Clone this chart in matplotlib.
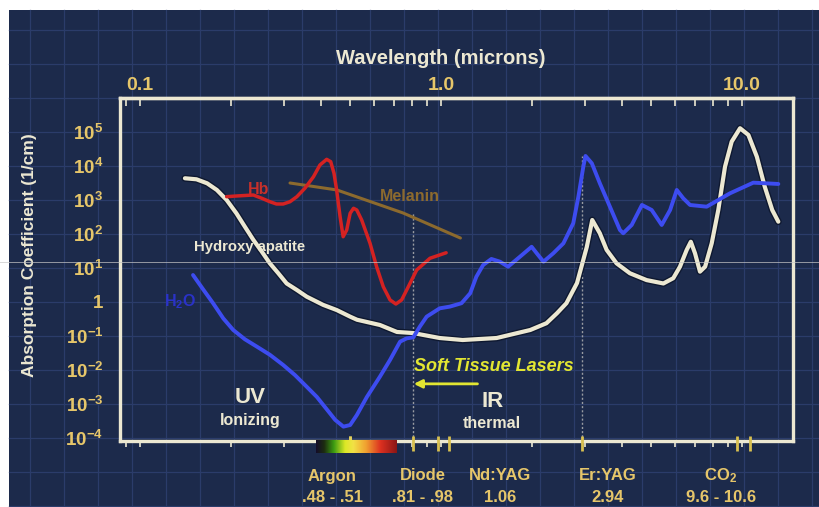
import matplotlib
matplotlib.use("Agg")
import matplotlib.pyplot as plt
import matplotlib.patheffects as pe
import numpy as np
from matplotlib.colors import LinearSegmentedColormap
from matplotlib.lines import Line2D
from matplotlib.patches import Rectangle
from matplotlib.ticker import LogLocator, NullFormatter, FixedLocator, FixedFormatter


# Hydroxyapatite (white curve): wavelength (microns), absorption (1/cm)
hap_wl = [0.141, 0.154, 0.167, 0.180, 0.194, 0.209, 0.223, 0.238, 0.254, 0.270,
          0.288, 0.307, 0.332, 0.358, 0.406, 0.450, 0.499, 0.526, 0.627, 0.714,
          0.807, 0.99, 1.18, 1.53, 1.98, 2.24, 2.43, 2.61, 2.83, 3.05, 3.18,
          3.37, 3.55, 3.83, 4.24, 4.82, 5.48, 5.91, 6.22, 6.55, 6.76, 6.98,
          7.25, 7.54, 7.93, 8.34, 8.78, 9.24, 9.85, 10.5, 11.2, 11.9, 12.6, 13.2]
hap_abs = [4350, 4060, 3100, 1970, 1000, 406, 164, 67, 30, 13.7,
           7.0, 3.5, 2.25, 1.43, 0.82, 0.58, 0.37, 0.30, 0.21, 0.131,
           0.122, 0.087, 0.076, 0.087, 0.15, 0.237, 0.47, 0.92, 3.6, 41.5, 258,
           105, 34, 13.7, 7.0, 4.4, 3.5, 5.0, 10.9, 34, 59, 27,
           7.8, 10.9, 53, 508, 9530, 5.2e4, 1.29e5, 8.2e4, 1.88e4, 2460, 508, 230]

# Water (blue curve)
h2o_wl = [0.150, 0.162, 0.175, 0.189, 0.204, 0.223, 0.244, 0.270, 0.299, 0.327,
          0.358, 0.387, 0.417, 0.445, 0.474, 0.499, 0.525, 0.567, 0.627, 0.677,
          0.731, 0.769, 0.809, 0.851, 0.896, 0.99, 1.07, 1.17, 1.25, 1.31,
          1.38, 1.47, 1.57, 1.67, 1.83, 2.00, 2.08, 2.19, 2.36, 2.55, 2.75,
          2.86, 2.97, 3.02, 3.17, 3.37, 3.64, 3.93, 4.03, 4.30, 4.65, 5.01,
          5.41, 5.77, 6.07, 6.38, 6.72, 7.63, 9.12, 10.9, 13.2]
h2o_abs = [6.2, 2.36, 0.91, 0.33, 0.15, 0.080, 0.049, 0.028, 0.014, 0.0071,
           0.0032, 0.0016, 7.0e-4, 3.4e-4, 2.15e-4, 2.4e-4, 4.7e-4, 0.0016, 0.0064, 0.0197,
           0.068, 0.085, 0.091, 0.19, 0.37, 0.65, 0.73, 0.92, 1.8, 5.5,
           12.2, 18.4, 15.3, 10.9, 21.5, 42, 27, 15.3, 27, 53, 207,
           1250, 9530, 1.97e4, 1.2e4, 3100, 635, 131, 105, 184, 713, 508,
           184, 508, 1970, 1120, 713, 635, 1570, 3230, 2960]

# Hemoglobin (red curve)
hb_wl = [0.194, 0.209, 0.238, 0.254, 0.270, 0.284, 0.299, 0.315, 0.332, 0.353,
         0.377, 0.396, 0.417, 0.430, 0.441, 0.450, 0.462, 0.473, 0.486, 0.499,
         0.512, 0.525, 0.545, 0.581, 0.611, 0.643, 0.677, 0.708, 0.740, 0.769,
         0.830, 0.919, 1.04]
hb_abs = [1250, 1310, 1400, 1120, 890, 762, 762, 890, 1250, 2210,
          4840, 1.07e4, 1.57e4, 1.34e4, 6100, 1970, 323, 83, 131, 406,
          570, 508, 258, 53, 10.9, 2.8, 1.15, 0.87, 1.15, 2.25,
          8.7, 19.3, 28]

# Melanin (brown line)
mel_wl = [0.315, 0.451, 0.748, 1.16]
mel_abs = [3160, 1970, 415, 76]

# Laser lines along the bottom axis
laser_ticks = [0.5, 0.81, 0.98, 1.06, 2.94, 9.6, 10.6]
laser_names = ["Argon", "Diode", "Nd:YAG", "Er:YAG", "CO$_2$"]
laser_ranges = [".48 - .51", ".81 - .98", "1.06", "2.94", "9.6 - 10.6"]
dotted_wl = [0.81, 2.94]
dotted_top = [415, 1.97e4]

top_ticks = [0.1, 1.0, 10.0]
top_labels = ["0.1", "1.0", "10.0"]
y_ticks = [1e5, 1e4, 1e3, 1e2, 1e1, 1, 1e-1, 1e-2, 1e-3, 1e-4]
y_labels = [r"$\mathbf{10^{5}}$", r"$\mathbf{10^{4}}$", r"$\mathbf{10^{3}}$",
            r"$\mathbf{10^{2}}$", r"$\mathbf{10^{1}}$", "1",
            r"$\mathbf{10^{-1}}$", r"$\mathbf{10^{-2}}$", r"$\mathbf{10^{-3}}$",
            r"$\mathbf{10^{-4}}$"]

NAVY = "#1c2a4b"
GRID = "#2b3c6a"
CREAM = "#ece8d2"
GOLD = "#e6c66a"
BLUE = "#3d4cf0"
RED = "#d42222"
BROWN = "#8c6a2e"
YELLOW = "#e2e632"

W, H = 820, 507

plt.rcParams["font.family"] = ["Liberation Sans", "DejaVu Sans"]
plt.rcParams["font.weight"] = "bold"
plt.rcParams["mathtext.fontset"] = "custom"
plt.rcParams["mathtext.rm"] = "Liberation Sans:bold"
plt.rcParams["mathtext.bf"] = "Liberation Sans:bold"
plt.rcParams["mathtext.it"] = "Liberation Sans:bold:italic"


def fx(px):
    return px / W


def fy(py):
    return 1 - py / H


fig = plt.figure(figsize=(W / 100, H / 100), dpi=100, facecolor="white")

# navy blueprint background with faint grid
fig.patches.append(Rectangle((fx(9), 0), 1, fy(10), transform=fig.transFigure,
                             facecolor=NAVY, edgecolor="none", zorder=-10))
for gx in np.arange(30, W, 34):
    fig.lines.append(Line2D([fx(gx), fx(gx)], [0, fy(10)], transform=fig.transFigure,
                            color=GRID, lw=0.9, zorder=-9))
for gy in np.arange(30, H, 34):
    fig.lines.append(Line2D([fx(9), 1], [fy(gy), fy(gy)], transform=fig.transFigure,
                            color=GRID, lw=0.9, zorder=-9))

ax = fig.add_axes([fx(120), fy(441), fx(793) - fx(120), fy(98) - fy(441)])
ax.set_facecolor("none")
ax.set_xscale("log")
ax.set_yscale("log")
ax.set_xlim(0.0858, 14.77)
ax.set_ylim(10 ** -4.09, 10 ** 6.0)

for s in ax.spines.values():
    s.set_color(CREAM)
    s.set_linewidth(2.4)

# curves
shadow = [pe.Stroke(linewidth=5, foreground="#0e1830"), pe.Normal()]
ax.plot(hap_wl, hap_abs, color=CREAM, lw=3, solid_joinstyle="round",
        solid_capstyle="round", path_effects=shadow, zorder=3)
ax.plot(mel_wl, mel_abs, color=BROWN, lw=2.2, solid_capstyle="round", zorder=3)
ax.plot(hb_wl, hb_abs, color=RED, lw=2.5, solid_joinstyle="round",
        solid_capstyle="round", zorder=4)
ax.plot(h2o_wl, h2o_abs, color=BLUE, lw=2.8, solid_joinstyle="round",
        solid_capstyle="round", zorder=5)

for wl, top in zip(dotted_wl, dotted_top):
    ax.plot([wl, wl], [10 ** -4.09, top], color="#b8b8b8", lw=1, ls=(0, (1.5, 1.5)),
            alpha=0.8, zorder=2)

# bottom axis: small white ticks pointing out, no labels
ax.xaxis.set_major_locator(LogLocator(base=10, numticks=10))
ax.xaxis.set_minor_locator(LogLocator(base=10, subs=np.arange(2, 10), numticks=20))
ax.xaxis.set_major_formatter(NullFormatter())
ax.xaxis.set_minor_formatter(NullFormatter())
ax.tick_params(axis="x", which="both", direction="out", color=CREAM, length=4, width=1.2)

ax.yaxis.set_major_locator(FixedLocator(y_ticks))
ax.yaxis.set_major_formatter(FixedFormatter(y_labels))
ax.yaxis.set_minor_locator(FixedLocator([]))
ax.tick_params(axis="y", which="both", length=0, pad=12, labelsize=13.5, labelcolor=GOLD)
for lab in ax.get_yticklabels():
    lab.set_fontweight("bold")

# top axis with labels
sec = ax.secondary_xaxis("top")
sec.xaxis.set_major_locator(FixedLocator(top_ticks))
sec.xaxis.set_major_formatter(FixedFormatter(top_labels))
sec.xaxis.set_minor_locator(LogLocator(base=10, subs=np.arange(2, 10), numticks=20))
sec.xaxis.set_minor_formatter(NullFormatter())
sec.tick_params(axis="x", which="both", direction="in", color=CREAM, length=6, width=1.2,
                labelsize=14, labelcolor=GOLD, pad=3)
sec.spines["top"].set_color(CREAM)
sec.spines["top"].set_linewidth(2.4)

# yellow laser marks crossing the bottom axis
ax.vlines(laser_ticks, -0.03, 0.015, transform=ax.get_xaxis_transform(),
          color="#d8c050", lw=2, clip_on=False, zorder=6)

# visible spectrum strip
spec = LinearSegmentedColormap.from_list(
    "spec", [(0, "#140c28"), (0.1, "#1c2c10"), (0.22, "#3c9c12"), (0.36, "#dce826"),
             (0.46, "#f2e246"), (0.62, "#f0a030"), (0.8, "#dc3020"), (1, "#8a1616")])
cax = fig.add_axes([fx(316), fy(453), fx(397) - fx(316), fy(440) - fy(453)])
cax.imshow(np.linspace(0, 1, 256)[None, :], aspect="auto", cmap=spec)
cax.set_axis_off()
ax.vlines([0.5], -0.03, 0.015, transform=ax.get_xaxis_transform(),
          color="#e0d060", lw=2, clip_on=False, zorder=6)

# curve labels
ax.text(0.247, 1970, "Hb", color="#c8302a", fontsize=11.5, ha="center", va="center")
ax.text(0.789, 1225, "Melanin", color=BROWN, fontsize=11.5, ha="center", va="center")
ax.text(0.151, 41.5, "Hydroxy apatite", color=CREAM, fontsize=10.7, ha="left", va="center")
ax.text(0.136, 1.0, "H$_2$O", color="#2a32c8", fontsize=11.5, ha="center", va="center")
ax.text(0.232, 0.0015, "UV", color=CREAM, fontsize=16, ha="center", va="center")
ax.text(0.232, 3.2e-4, "Ionizing", color=CREAM, fontsize=11.5, ha="center", va="center")
ax.text(1.48, 0.00115, "IR", color=CREAM, fontsize=16, ha="center", va="center")
ax.text(1.48, 2.6e-4, "thermal", color=CREAM, fontsize=11.5, ha="center", va="center")
ax.text(0.813, 0.0123, "Soft Tissue Lasers", color=YELLOW, fontsize=13,
        style="italic", ha="left", va="center")
ax.annotate("", xy=(0.795, 0.0039), xytext=(1.35, 0.0039),
            arrowprops=dict(arrowstyle="-|>", color=YELLOW, lw=2, mutation_scale=12))

# laser names along the bottom
name_x = [332, 423, 500, 608, 721]
for name, rng, px in zip(laser_names, laser_ranges, name_x):
    fig.text(fx(px), fy(476), name, color=GOLD, fontsize=12, ha="center", va="center")
    fig.text(fx(px), fy(497), rng, color=GOLD, fontsize=12, ha="center", va="center")

fig.text(fx(441), fy(58), "Wavelength (microns)", color=CREAM, fontsize=14.5,
         ha="center", va="center")
fig.text(fx(30), fy(255), "Absorption Coefficient (1/cm)", color=CREAM, fontsize=12.5,
         rotation=90, ha="center", va="center")

# faint horizontal scan line across the picture
fig.lines.append(Line2D([0, 1], [fy(262), fy(262)], transform=fig.transFigure,
                        color="#c8c8c8", lw=0.7, alpha=0.7, zorder=20))

fig.savefig("out.png", dpi=100, facecolor=fig.get_facecolor())
